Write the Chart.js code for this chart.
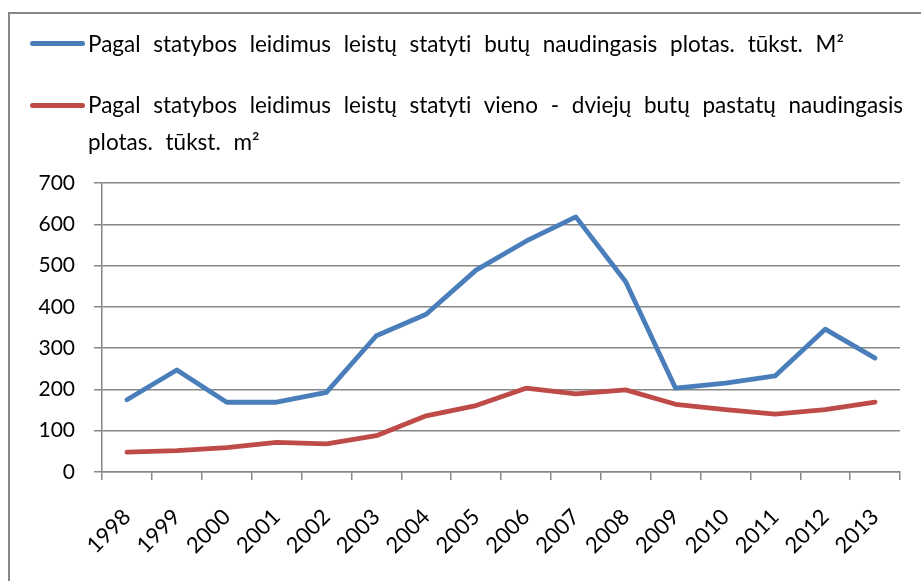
<!DOCTYPE html>
<html>
<head>
<meta charset="utf-8">
<script src="https://cdn.jsdelivr.net/npm/chart.js@4"></script>
<style>
  html, body { margin: 0; padding: 0; background: #fff; }
  #wrap { position: relative; width: 921px; height: 581px; overflow: hidden; }
  #frame { position: absolute; left: 8px; top: 12px; width: 930px; height: 600px; border: 2px solid #878787; box-sizing: border-box; }
  canvas { position: absolute; left: 0; top: 0; }
  .leg { position: absolute; font-family: Lato, "Open Sans", sans-serif; font-size: 22.5px; line-height: 37px; color: #000; word-spacing: 7px; font-variant-ligatures: none; }
  .swatch { position: absolute; left: 30px; width: 55px; height: 5px; border-radius: 3px; }
</style>
</head>
<body>
<div id="wrap">
  <div id="frame"></div>
  <canvas id="myLineChart" width="921" height="581"></canvas>
  <div id="legend"></div>
</div>
<script>
const years = ["1998", "1999", "2000", "2001", "2002", "2003", "2004", "2005",
  "2006", "2007", "2008", "2009", "2010", "2011", "2012", "2013"];
const seriesNames = [
  "Pagal statybos leidimus leistų statyti butų naudingasis plotas. tūkst. M²",
  "Pagal statybos leidimus leistų statyti vieno - dviejų butų pastatų naudingasis plotas. tūkst. m²",
];
const allFlats = [175, 247, 169, 169, 193, 330, 382, 489, 559, 618, 461, 203, 215, 233, 346, 276];
const oneTwoFlat = [48, 52, 59, 72, 68, 88, 136, 161, 203, 189, 199, 164, 151, 140, 151, 169];
const yTicks = [0, 100, 200, 300, 400, 500, 600, 700];
const colors = ["#4A7EBB", "#BE4B48"];

// legend drawn as html so the long label can wrap like the original
const legendTops = [25, 86];
const swatchTops = [41, 103];
const legend = document.getElementById("legend");
seriesNames.forEach((name, i) => {
  const sw = document.createElement("div");
  sw.className = "swatch";
  sw.style.top = swatchTops[i] + "px";
  sw.style.background = colors[i];
  legend.appendChild(sw);
  const txt = document.createElement("div");
  txt.className = "leg";
  txt.style.left = "88px";
  txt.style.top = legendTops[i] + "px";
  txt.style.width = "830px";
  txt.textContent = name;
  legend.appendChild(txt);
});

const ctx = document.getElementById("myLineChart").getContext("2d");
const myLineChart = new Chart(ctx, {
  type: "line",
  data: {
    labels: years,
    datasets: [
      {
        label: seriesNames[0],
        data: allFlats,
        borderColor: colors[0],
        borderWidth: 4.8,
        pointRadius: 0,
        tension: 0,
        borderCapStyle: "round",
        borderJoinStyle: "round",
      },
      {
        label: seriesNames[1],
        data: oneTwoFlat,
        borderColor: colors[1],
        borderWidth: 4.8,
        pointRadius: 0,
        tension: 0,
        borderCapStyle: "round",
        borderJoinStyle: "round",
      },
    ],
  },
  options: {
    responsive: false,
    animation: false,
    layout: {
      padding: { top: 183, right: 21, left: 0, bottom: 0 },
    },
    scales: {
      y: {
        min: 0,
        max: 700,
        afterBuildTicks: (scale) => {
          scale.ticks = yTicks.map((v) => ({ value: v }));
        },
        afterFit: (scale) => {
          scale.width = 102;
        },
        ticks: {
          color: "#000",
          padding: 19,
          font: { family: "Lato", size: 21 },
        },
        grid: {
          color: "#878787",
          lineWidth: 1.5,
          tickLength: 8,
        },
        border: { color: "#878787", width: 1.5 },
      },
      x: {
        offset: true,
        afterFit: (scale) => {
          scale.height = 109;
        },
        ticks: {
          color: "#000",
          minRotation: 45,
          maxRotation: 45,
          autoSkip: false,
          padding: 24,
          font: { family: "Lato", size: 22 },
        },
        grid: {
          offset: true,
          drawOnChartArea: false,
          color: "#878787",
          lineWidth: 1.5,
          tickLength: 8,
        },
        border: { color: "#878787", width: 1.5 },
      },
    },
    plugins: {
      legend: { display: false },
      tooltip: { enabled: false },
    },
  },
});
</script>
</body>
</html>
